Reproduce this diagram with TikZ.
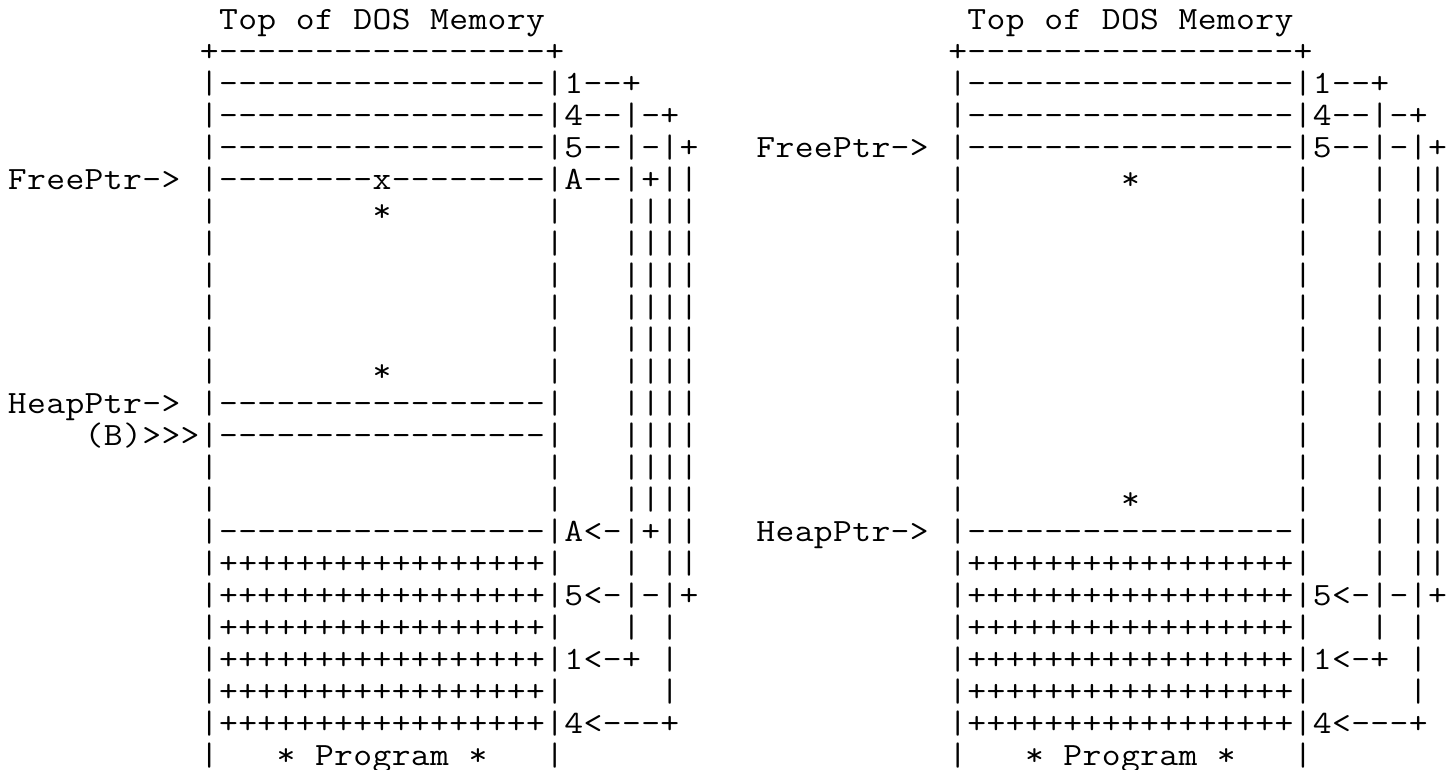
\documentclass[tikz,border=0pt]{standalone}
\usepackage{fontspec}
\newcommand\colx[1]{7.8+19.19*#1}
\newcommand\rowy[1]{739.8-32.0*#1}
% each character in its own fixed-width cell, so the grid can never drift
\newcommand\gl[1]{\ifx#1\relax\else\hbox to 19.19pt{\hss\scalebox{1.1247}[1]{#1}\hss}\expandafter\gl\fi}
\newcommand\arow[1]{\gl#1\relax}
\tikzset{
  rowtext/.style={font=\ttfamily\fontsize{32.5}{32}\selectfont, inner sep=0pt, outer sep=0pt, anchor=base west, text=black}
}
\begin{document}
\begin{tikzpicture}[x=1pt,y=1pt]
\fill[white] (0,0) rectangle (1453,769);
\useasboundingbox (0,0) rectangle (1453,769);
% ---------------- left diagram ----------------
\node[rowtext] (L0)  at ({\colx{11}},{\rowy{0}})  {\arow{Top~of~DOS~Memory}};
\node[rowtext] (L1)  at ({\colx{10}},{\rowy{1}})  {\arow{+-----------------+}};
\node[rowtext] (L2)  at ({\colx{10}},{\rowy{2}})  {\arow{|-----------------|1--+}};
\node[rowtext] (L3)  at ({\colx{10}},{\rowy{3}})  {\arow{|-----------------|4--|-+}};
\node[rowtext] (L4)  at ({\colx{10}},{\rowy{4}})  {\arow{|-----------------|5--|-|+}};
\node[rowtext] (L5)  at ({\colx{0}},{\rowy{5}})   {\arow{FreePtr->~|--------x--------|A--|+||}};
\node[rowtext] (L6)  at ({\colx{10}},{\rowy{6}})  {\arow{|~~~~~~~~*~~~~~~~~|~~~||||}};
\node[rowtext] (L7)  at ({\colx{10}},{\rowy{7}})  {\arow{|~~~~~~~~~~~~~~~~~|~~~||||}};
\node[rowtext] (L8)  at ({\colx{10}},{\rowy{8}})  {\arow{|~~~~~~~~~~~~~~~~~|~~~||||}};
\node[rowtext] (L9)  at ({\colx{10}},{\rowy{9}})  {\arow{|~~~~~~~~~~~~~~~~~|~~~||||}};
\node[rowtext] (L10) at ({\colx{10}},{\rowy{10}}) {\arow{|~~~~~~~~~~~~~~~~~|~~~||||}};
\node[rowtext] (L11) at ({\colx{10}},{\rowy{11}}) {\arow{|~~~~~~~~*~~~~~~~~|~~~||||}};
\node[rowtext] (L12) at ({\colx{0}},{\rowy{12}})  {\arow{HeapPtr->~|-----------------|~~~||||}};
\node[rowtext] (L13) at ({\colx{4}},{\rowy{13}})  {\arow{(B)>>>|-----------------|~~~||||}};
\node[rowtext] (L14) at ({\colx{10}},{\rowy{14}}) {\arow{|~~~~~~~~~~~~~~~~~|~~~||||}};
\node[rowtext] (L15) at ({\colx{10}},{\rowy{15}}) {\arow{|~~~~~~~~~~~~~~~~~|~~~||||}};
\node[rowtext] (L16) at ({\colx{10}},{\rowy{16}}) {\arow{|-----------------|A<-|+||}};
\node[rowtext] (L17) at ({\colx{10}},{\rowy{17}}) {\arow{|+++++++++++++++++|~~~|~||}};
\node[rowtext] (L18) at ({\colx{10}},{\rowy{18}}) {\arow{|+++++++++++++++++|5<-|-|+}};
\node[rowtext] (L19) at ({\colx{10}},{\rowy{19}}) {\arow{|+++++++++++++++++|~~~|~|}};
\node[rowtext] (L20) at ({\colx{10}},{\rowy{20}}) {\arow{|+++++++++++++++++|1<-+~|}};
\node[rowtext] (L21) at ({\colx{10}},{\rowy{21}}) {\arow{|+++++++++++++++++|~~~~~|}};
\node[rowtext] (L22) at ({\colx{10}},{\rowy{22}}) {\arow{|+++++++++++++++++|4<---+}};
\node[rowtext] (L23) at ({\colx{10}},{\rowy{23}}) {\arow{|~~~*~Program~*~~~|}};
% ---------------- right diagram ----------------
\node[rowtext] (R0)  at ({\colx{50}},{\rowy{0}})  {\arow{Top~of~DOS~Memory}};
\node[rowtext] (R1)  at ({\colx{49}},{\rowy{1}})  {\arow{+-----------------+}};
\node[rowtext] (R2)  at ({\colx{49}},{\rowy{2}})  {\arow{|-----------------|1--+}};
\node[rowtext] (R3)  at ({\colx{49}},{\rowy{3}})  {\arow{|-----------------|4--|-+}};
\node[rowtext] (R4)  at ({\colx{39}},{\rowy{4}})  {\arow{FreePtr->~|-----------------|5--|-|+}};
\node[rowtext] (R5)  at ({\colx{49}},{\rowy{5}})  {\arow{|~~~~~~~~*~~~~~~~~|~~~|~||}};
\node[rowtext] (R6)  at ({\colx{49}},{\rowy{6}})  {\arow{|~~~~~~~~~~~~~~~~~|~~~|~||}};
\node[rowtext] (R7)  at ({\colx{49}},{\rowy{7}})  {\arow{|~~~~~~~~~~~~~~~~~|~~~|~||}};
\node[rowtext] (R8)  at ({\colx{49}},{\rowy{8}})  {\arow{|~~~~~~~~~~~~~~~~~|~~~|~||}};
\node[rowtext] (R9)  at ({\colx{49}},{\rowy{9}})  {\arow{|~~~~~~~~~~~~~~~~~|~~~|~||}};
\node[rowtext] (R10) at ({\colx{49}},{\rowy{10}}) {\arow{|~~~~~~~~~~~~~~~~~|~~~|~||}};
\node[rowtext] (R11) at ({\colx{49}},{\rowy{11}}) {\arow{|~~~~~~~~~~~~~~~~~|~~~|~||}};
\node[rowtext] (R12) at ({\colx{49}},{\rowy{12}}) {\arow{|~~~~~~~~~~~~~~~~~|~~~|~||}};
\node[rowtext] (R13) at ({\colx{49}},{\rowy{13}}) {\arow{|~~~~~~~~~~~~~~~~~|~~~|~||}};
\node[rowtext] (R14) at ({\colx{49}},{\rowy{14}}) {\arow{|~~~~~~~~~~~~~~~~~|~~~|~||}};
\node[rowtext] (R15) at ({\colx{49}},{\rowy{15}}) {\arow{|~~~~~~~~*~~~~~~~~|~~~|~||}};
\node[rowtext] (R16) at ({\colx{39}},{\rowy{16}}) {\arow{HeapPtr->~|-----------------|~~~|~||}};
\node[rowtext] (R17) at ({\colx{49}},{\rowy{17}}) {\arow{|+++++++++++++++++|~~~|~||}};
\node[rowtext] (R18) at ({\colx{49}},{\rowy{18}}) {\arow{|+++++++++++++++++|5<-|-|+}};
\node[rowtext] (R19) at ({\colx{49}},{\rowy{19}}) {\arow{|+++++++++++++++++|~~~|~|}};
\node[rowtext] (R20) at ({\colx{49}},{\rowy{20}}) {\arow{|+++++++++++++++++|1<-+~|}};
\node[rowtext] (R21) at ({\colx{49}},{\rowy{21}}) {\arow{|+++++++++++++++++|~~~~~|}};
\node[rowtext] (R22) at ({\colx{49}},{\rowy{22}}) {\arow{|+++++++++++++++++|4<---+}};
\node[rowtext] (R23) at ({\colx{49}},{\rowy{23}}) {\arow{|~~~*~Program~*~~~|}};
\end{tikzpicture}
\end{document}
